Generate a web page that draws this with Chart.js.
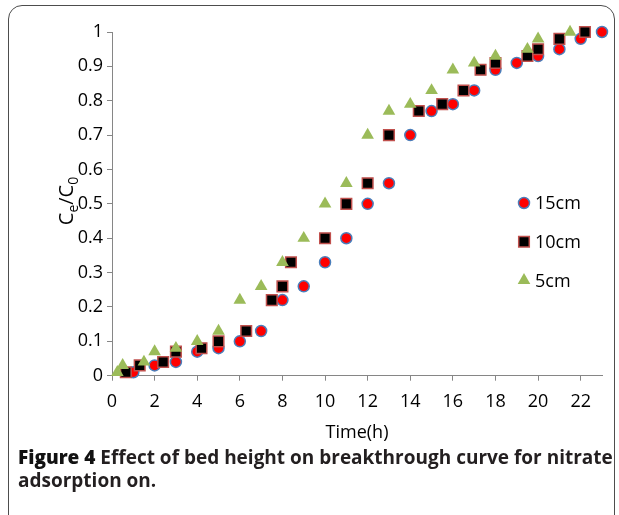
<!DOCTYPE html>
<html>
<head>
<meta charset="utf-8">
<script src="https://cdn.jsdelivr.net/npm/chart.js@4.4.0/dist/chart.umd.min.js"></script>
<style>
    html, body { margin: 0; padding: 0; background: #fff; }
    #wrap { position: relative; width: 619px; height: 515px; overflow: hidden; }
    #frame {
        position: absolute; left: 8px; top: 5px; width: 607px; height: 530px;
        border: 1.5px solid #4d4d4d; border-radius: 14px; box-sizing: border-box;
    }
    #grafico { position: absolute; left: 0; top: 0; }
    #legenda {
        position: absolute; left: 18px; top: 446px; font-family: 'Open Sans', sans-serif;
        font-weight: bold; font-size: 19px; line-height: 23px; color: #231f20; white-space: nowrap;
    }
    #legenda b { color: #111; }
</style>
</head>
<body>
<div id="wrap">
    <div id="frame"></div>
    <canvas id="grafico" width="619" height="515"></canvas>
    <div id="legenda"><b>Figure 4</b> Effect of bed height on breakthrough curve for nitrate<br>adsorption on.</div>
</div>
<script>
// dados
const series = ['15cm', '10cm', '5cm'];

const tempo15 = [1, 2, 3, 4, 5, 6, 7, 8, 9, 10, 11, 12, 13, 14, 15, 16, 17, 18, 19, 20, 21, 22, 23];
const razao15 = [0.01, 0.03, 0.04, 0.07, 0.08, 0.10, 0.13, 0.22, 0.26, 0.33, 0.40, 0.50, 0.56, 0.70, 0.77, 0.79, 0.83, 0.89, 0.91, 0.93, 0.95, 0.98, 1.00];

const tempo10 = [0.65, 1.3, 2.4, 3, 4.2, 5, 6.3, 7.5, 8, 8.4, 10, 11, 12, 13, 14.4, 15.5, 16.5, 17.3, 18, 19.5, 20, 21, 22.2];
const razao10 = [0.01, 0.03, 0.04, 0.07, 0.08, 0.10, 0.13, 0.22, 0.26, 0.33, 0.40, 0.50, 0.56, 0.70, 0.77, 0.79, 0.83, 0.89, 0.91, 0.93, 0.95, 0.98, 1.00];

const tempo5 = [0.25, 0.5, 1.5, 2, 3, 4, 5, 6, 7, 8, 9, 10, 11, 12, 13, 14, 15, 16, 17, 18, 19.5, 20, 21.5];
const razao5 = [0.01, 0.03, 0.04, 0.07, 0.08, 0.10, 0.13, 0.22, 0.26, 0.33, 0.40, 0.50, 0.56, 0.70, 0.77, 0.79, 0.83, 0.89, 0.91, 0.93, 0.95, 0.98, 1.00];

const xTicks = { min: 0, max: 23, step: 2 };
const yTicks = { min: 0, max: 1, step: 0.1 };

const FONTE = "'Open Sans', sans-serif";
const CINZA = '#868686';

function pontos(xs, ys) {
    return xs.map((x, i) => ({ x: x, y: ys[i] }));
}

// titulo do eixo y com subscritos
const tituloY = {
    id: 'tituloY',
    afterDraw(chart) {
        const ctx = chart.ctx;
        const partes = [
            { t: 'C', s: 20, dy: 0 },
            { t: 'e', s: 14, dy: 5 },
            { t: '/C', s: 20, dy: 0 },
            { t: '0', s: 14, dy: 5 }
        ];
        ctx.save();
        ctx.translate(67, 201);
        ctx.rotate(-Math.PI / 2);
        ctx.fillStyle = '#000';
        ctx.textBaseline = 'alphabetic';
        let total = 0;
        partes.forEach(p => {
            ctx.font = p.s + 'px ' + FONTE;
            p.w = ctx.measureText(p.t).width;
            total += p.w;
        });
        let x = -total / 2;
        partes.forEach(p => {
            ctx.font = p.s + 'px ' + FONTE;
            ctx.fillText(p.t, x, 6 + p.dy);
            x += p.w;
        });
        ctx.restore();
    }
};

// legenda dentro da area do grafico
const legendaInterna = {
    id: 'legendaInterna',
    afterDraw(chart) {
        const ctx = chart.ctx;
        chart.data.datasets.forEach((ds, i) => {
            const y = 203 + i * 38.7;
            ctx.save();
            ctx.fillStyle = ds.pointBackgroundColor;
            ctx.strokeStyle = ds.pointBorderColor;
            ctx.lineWidth = ds.pointBorderWidth;
            Chart.helpers.drawPoint(ctx, {
                pointStyle: ds.pointStyle,
                radius: ds.pointRadius,
                rotation: 0,
                borderWidth: ds.pointBorderWidth
            }, 524, y);
            ctx.fillStyle = '#000';
            ctx.font = '18px ' + FONTE;
            ctx.textBaseline = 'middle';
            ctx.fillText(ds.label, 535, y + 1);
            ctx.restore();
        });
    }
};

const ctx = document.getElementById('grafico').getContext('2d');

new Chart(ctx, {
    type: 'scatter',
    data: {
        datasets: [
            {
                label: series[0],
                data: pontos(tempo15, razao15),
                pointStyle: 'circle',
                pointRadius: 5.5,
                pointHoverRadius: 5.5,
                pointBackgroundColor: '#ff0000',
                pointBorderColor: '#4a7ebb',
                pointBorderWidth: 1.5,
                order: 3,
                clip: false
            },
            {
                label: series[1],
                data: pontos(tempo10, razao10),
                pointStyle: 'rect',
                pointRadius: 7.5,
                pointHoverRadius: 7.5,
                pointBackgroundColor: '#000000',
                pointBorderColor: '#c0504d',
                pointBorderWidth: 1.5,
                order: 2,
                clip: false
            },
            {
                label: series[2],
                data: pontos(tempo5, razao5),
                pointStyle: 'triangle',
                pointRadius: 7.3,
                pointHoverRadius: 7.3,
                pointBackgroundColor: '#9bbb59',
                pointBorderColor: '#9bbb59',
                pointBorderWidth: 0,
                order: 1,
                clip: false
            }
        ]
    },
    options: {
        responsive: false,
        animation: false,
        devicePixelRatio: 1,
        layout: { padding: { left: 0, right: 17, top: 32, bottom: 69.3 } },
        plugins: {
            legend: { display: false },
            tooltip: { enabled: false }
        },
        scales: {
            x: {
                type: 'linear',
                position: 'bottom',
                min: xTicks.min,
                max: xTicks.max,
                afterFit: s => { s.height = 70; },
                ticks: {
                    stepSize: xTicks.step,
                    includeBounds: false,
                    padding: 10,
                    maxRotation: 0,
                    color: '#000',
                    font: { family: FONTE, size: 18 }
                },
                grid: { drawOnChartArea: false, tickLength: 5, color: CINZA },
                border: { color: CINZA, width: 1 },
                title: {
                    display: true,
                    text: 'Time(h)',
                    color: '#000',
                    font: { family: FONTE, size: 18 },
                    padding: { top: 0, bottom: 2 }
                }
            },
            y: {
                min: yTicks.min,
                max: yTicks.max,
                afterFit: s => { s.width = 112; },
                ticks: {
                    stepSize: yTicks.step,
                    padding: 4,
                    color: '#000',
                    font: { family: FONTE, size: 18 },
                    callback: v => String(Number(v.toFixed(1)))
                },
                grid: { drawOnChartArea: false, tickLength: 5, color: CINZA },
                border: { color: CINZA, width: 1 }
            }
        }
    },
    plugins: [tituloY, legendaInterna]
});
</script>
</body>
</html>
